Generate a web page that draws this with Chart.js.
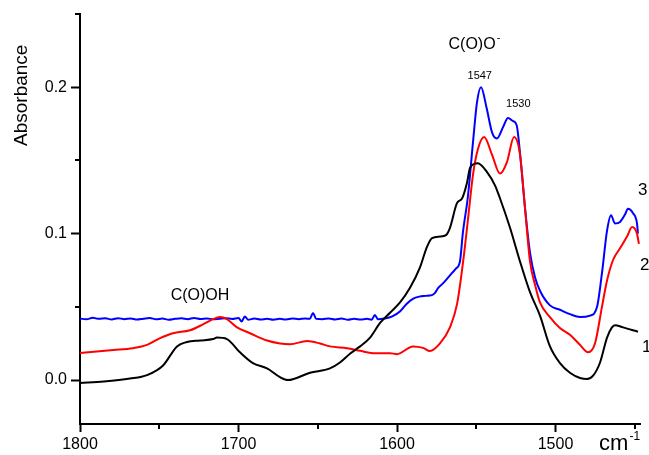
<!DOCTYPE html>
<html>
<head>
<meta charset="utf-8">
<script src="https://cdn.jsdelivr.net/npm/chart.js@4.4.1/dist/chart.umd.min.js"></script>
<style>
  html, body { margin: 0; padding: 0; background: #fff; }
  #wrap { width: 649px; height: 455px; }
</style>
</head>
<body>
<div id="wrap"><canvas id="spectra" width="649" height="455"></canvas></div>
<script>
// spectrum 1 (black)
const wn1 = [1800, 1785, 1768.5, 1757.7, 1747.6, 1738.8, 1732.5, 1724.3, 1716, 1713.6, 1707.3, 1699.1,
  1690.9, 1682, 1673.8, 1668.8, 1654.9, 1642.3, 1636, 1629.7, 1623.3, 1617, 1610.7, 1604.4, 1598.1,
  1591.8, 1585.5, 1581.1, 1577.9, 1572.9, 1569.1, 1566.6, 1562.1, 1559, 1555.8, 1553.9, 1549,
  1543.2, 1538.2, 1535, 1528.7, 1522.4, 1516.1, 1509.8, 1503.5, 1497.2, 1490.9, 1484.5, 1480.1,
  1476.3, 1471.9, 1467.5, 1464.4, 1462.5, 1457.4, 1448];
const abs1 = [-0.002, -0.001, 0.001, 0.0034, 0.010, 0.023, 0.026, 0.027, 0.028, 0.029, 0.028, 0.019,
  0.0116, 0.008, 0.002, 0.000, 0.005, 0.008, 0.012, 0.018, 0.023, 0.029, 0.039, 0.046, 0.053,
  0.063, 0.077, 0.091, 0.097, 0.098, 0.099, 0.104, 0.121, 0.124, 0.135, 0.145, 0.148,
  0.142, 0.133, 0.124, 0.104, 0.081, 0.060, 0.044, 0.023, 0.0116, 0.005, 0.0014, 0.0007,
  0.003, 0.012, 0.029, 0.036, 0.0375, 0.036, 0.033];

// spectrum 2 (red)
const wn2 = [1800, 1779, 1766.6, 1757.7, 1749.5, 1741.3, 1730.6, 1722.4, 1716.1, 1711.7, 1707.3, 1700.9,
  1692.7, 1682, 1673.8, 1667.5, 1656.8, 1648.6, 1642.3, 1631.5, 1623.3, 1615.1, 1604.4, 1600,
  1589.9, 1583.6, 1579.2, 1572.9, 1566.6, 1562.1, 1558.4, 1555.2, 1552.1, 1548.9, 1545,
  1540.1, 1535, 1530.6, 1526.2, 1522.4, 1519.2, 1516.1, 1512.9, 1509.8, 1503.5, 1497.2, 1490.9,
  1484.5, 1479.5, 1475.1, 1470.7, 1467.5, 1463.7, 1459.3, 1454.9, 1451.7, 1448.6, 1447.4];
const abs2 = [0.0185, 0.0205, 0.0218, 0.024, 0.0286, 0.032, 0.034, 0.038, 0.0416, 0.043, 0.0416, 0.036,
  0.032, 0.027, 0.025, 0.0245, 0.0266, 0.025, 0.023, 0.0218, 0.020, 0.0184, 0.0184, 0.0177,
  0.023, 0.022, 0.0198, 0.025, 0.036, 0.052, 0.080, 0.110, 0.140, 0.158, 0.166,
  0.154, 0.141, 0.149, 0.166, 0.154, 0.117, 0.081, 0.065, 0.053, 0.043, 0.0355, 0.031,
  0.024, 0.019, 0.025, 0.050, 0.068, 0.082, 0.090, 0.098, 0.1045, 0.100, 0.093];

// spectrum 3 (blue)
const wn3 = [1800, 1796, 1792, 1788, 1784, 1780, 1776, 1772, 1768, 1764, 1760, 1756, 1752, 1748, 1744,
  1740, 1736, 1732, 1728, 1724, 1720, 1716, 1712, 1708, 1704, 1700, 1698, 1696, 1694, 1690, 1686,
  1682, 1678, 1674, 1670, 1666, 1662, 1658, 1655, 1653, 1651, 1647, 1643, 1639, 1635, 1631, 1627,
  1623, 1619, 1616, 1614, 1612, 1608, 1603, 1598, 1594, 1590, 1586, 1582, 1578, 1576, 1574, 1571,
  1567, 1563, 1560.3, 1558.4, 1555.2, 1552.1, 1549.5, 1547, 1543.5, 1540, 1537, 1533, 1530, 1527,
  1524.5, 1522.4, 1519.2, 1516.1, 1512.9, 1509.8, 1503.5, 1497.2, 1490.9, 1484.5, 1478.2, 1473.8,
  1470.7, 1467.5, 1465, 1462.5, 1459.3, 1456.2, 1454.3, 1451.1, 1448.6, 1448];
const abs3 = [0.042, 0.0415, 0.0425, 0.0418, 0.0422, 0.0414, 0.0423, 0.0416, 0.0421, 0.0413, 0.0419,
  0.0424, 0.0415, 0.042, 0.0412, 0.0418, 0.0422, 0.0416, 0.0424, 0.0417, 0.0421, 0.0415, 0.0419,
  0.0423, 0.0417, 0.0424, 0.040, 0.0435, 0.0412, 0.042, 0.0413, 0.0419, 0.0412, 0.0418, 0.0414,
  0.042, 0.0416, 0.0421, 0.0418, 0.0458, 0.0418, 0.0416, 0.0421, 0.0414, 0.042, 0.0412, 0.0419,
  0.0413, 0.0418, 0.0412, 0.0445, 0.0415, 0.042, 0.0435, 0.047, 0.052, 0.0555, 0.057, 0.0575,
  0.058, 0.0595, 0.063, 0.066, 0.071, 0.076, 0.081, 0.101, 0.126, 0.162, 0.190, 0.200, 0.186,
  0.169, 0.165, 0.173, 0.179, 0.177, 0.174, 0.155, 0.117, 0.087, 0.070, 0.061, 0.051, 0.048,
  0.045, 0.043, 0.044, 0.050, 0.073, 0.102, 0.1126, 0.107, 0.108, 0.113, 0.117, 0.114, 0.107, 0.100];

const xTicks = [1800, 1700, 1600, 1500];
const xMinorTicks = [1750, 1650, 1550, 1450];
const yTicks = [0.0, 0.1, 0.2];
const yMinorTicks = [0.05, 0.15, 0.25];

const FONT = "'Liberation Sans', Arial, sans-serif";

function toPoints(xs, ys) {
  return xs.map((x, i) => ({ x: x, y: ys[i] }));
}

function line(label, xs, ys, color) {
  return {
    label: label,
    data: toPoints(xs, ys),
    showLine: true,
    borderColor: color,
    borderWidth: 2,
    pointRadius: 0,
    cubicInterpolationMode: "monotone",
    fill: false
  };
}

// short minor ticks, axis title, peak labels and curve numbers
const decorations = {
  id: "decorations",
  afterDraw(chart) {
    const ctx = chart.ctx;
    const xs = chart.scales.x;
    const ys = chart.scales.y;
    const area = chart.chartArea;

    ctx.save();
    ctx.strokeStyle = "#000";
    ctx.lineWidth = 2;
    ctx.beginPath();
    xMinorTicks.forEach(v => {
      const px = Math.round(xs.getPixelForValue(v));
      ctx.moveTo(px, area.bottom);
      ctx.lineTo(px, area.bottom + 5);
    });
    yMinorTicks.forEach(v => {
      const py = Math.round(ys.getPixelForValue(v));
      ctx.moveTo(area.left, py);
      ctx.lineTo(area.left - 5, py);
    });
    ctx.stroke();

    ctx.fillStyle = "#000";
    ctx.textBaseline = "middle";

    // y axis title
    ctx.save();
    ctx.translate(22, ys.getPixelForValue(0.1945));
    ctx.rotate(-Math.PI / 2);
    ctx.textAlign = "center";
    ctx.font = "19px " + FONT;
    ctx.fillText("Absorbance", 0, 0);
    ctx.restore();

    // group labels
    ctx.font = "16px " + FONT;
    ctx.textAlign = "left";
    let x0 = xs.getPixelForValue(1567.5);
    let y0 = ys.getPixelForValue(0.229);
    ctx.fillText("C(O)O", x0, y0);
    const w = ctx.measureText("C(O)O").width;
    ctx.font = "11px " + FONT;
    ctx.fillText("-", x0 + w + 1, y0 - 7);

    ctx.font = "16px " + FONT;
    ctx.textAlign = "center";
    ctx.fillText("C(O)OH", xs.getPixelForValue(1724.3), ys.getPixelForValue(0.058));

    // peak positions
    ctx.font = "11px " + FONT;
    ctx.fillText("1547", xs.getPixelForValue(1547.8), ys.getPixelForValue(0.2075));
    ctx.fillText("1530", xs.getPixelForValue(1523.5), ys.getPixelForValue(0.1885));

    // curve numbers at the right edge
    ctx.font = "17px " + FONT;
    ctx.textAlign = "left";
    ctx.fillText("3", area.right - 2, ys.getPixelForValue(0.1297));
    ctx.fillText("2", area.right - 0, ys.getPixelForValue(0.0785));
    ctx.fillText("1", area.right + 2, ys.getPixelForValue(0.0225));

    // x axis unit
    ctx.font = "22px " + FONT;
    ctx.textAlign = "left";
    ctx.textBaseline = "alphabetic";
    const ux = xs.getPixelForValue(1472.5);
    ctx.fillText("cm", ux, 450);
    const uw = ctx.measureText("cm").width;
    ctx.font = "12px " + FONT;
    ctx.fillText("-1", ux + uw + 1, 440);
    ctx.restore();
  }
};

new Chart(document.getElementById("spectra"), {
  type: "scatter",
  data: {
    datasets: [
      line("1", wn1, abs1, "#000000"),
      line("2", wn2, abs2, "#ff0000"),
      line("3", wn3, abs3, "#0000ff")
    ]
  },
  options: {
    responsive: false,
    devicePixelRatio: 1,
    animation: false,
    layout: { padding: { top: 14, right: 9, left: 0, bottom: 0 } },
    plugins: {
      legend: { display: false },
      tooltip: { enabled: false }
    },
    scales: {
      x: {
        type: "linear",
        reverse: true,
        min: 1446.7,
        max: 1800,
        afterBuildTicks: scale => { scale.ticks = xTicks.map(v => ({ value: v })); },
        afterFit: scale => { scale.height = 31; },
        grid: { drawOnChartArea: false, drawTicks: true, tickLength: 8, tickWidth: 2, tickColor: "#000" },
        border: { display: true, color: "#000", width: 2 },
        ticks: {
          color: "#000",
          font: { family: FONT, size: 16 },
          padding: 3,
          maxRotation: 0,
          callback: v => String(v)
        }
      },
      y: {
        type: "linear",
        min: -0.03,
        max: 0.25,
        afterBuildTicks: scale => { scale.ticks = yTicks.map(v => ({ value: v })); },
        afterFit: scale => { scale.width = 80; },
        grid: { drawOnChartArea: false, drawTicks: true, tickLength: 9, tickWidth: 2, tickColor: "#000" },
        border: { display: true, color: "#000", width: 2 },
        ticks: {
          color: "#000",
          font: { family: FONT, size: 16 },
          padding: 4,
          callback: v => v.toFixed(1)
        }
      }
    }
  },
  plugins: [decorations]
});
</script>
</body>
</html>
